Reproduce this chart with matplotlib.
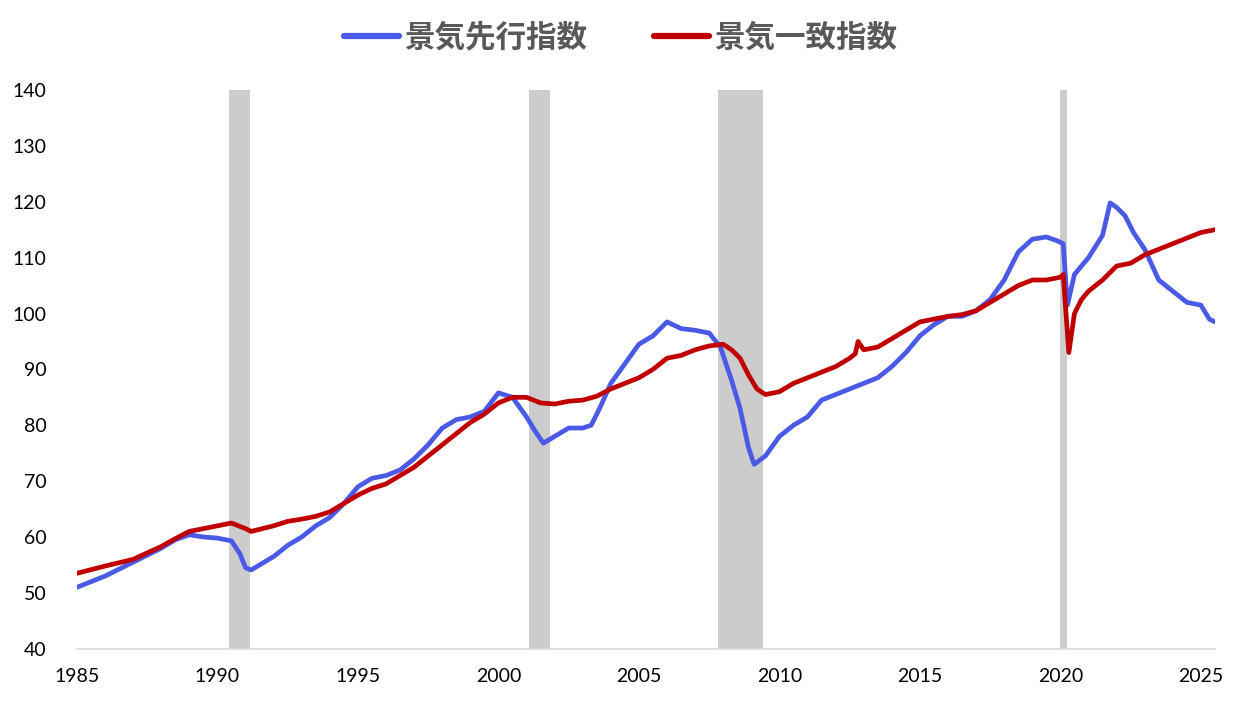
import matplotlib
matplotlib.use("Agg")
import matplotlib.pyplot as plt

# 景気先行指数 (LEI) - fractional year, value
lei_t = [1985.0, 1986.0, 1987.0, 1988.0, 1988.5, 1989.0, 1989.5, 1990.0, 1990.5, 1990.8,
         1991.0, 1991.2, 1991.5, 1992.0, 1992.5, 1993.0, 1993.5, 1994.0, 1994.5, 1995.0,
         1995.5, 1996.0, 1996.5, 1997.0, 1997.5, 1998.0, 1998.5, 1999.0, 1999.5, 2000.0,
         2000.5, 2001.0, 2001.3, 2001.6, 2002.0, 2002.5, 2003.0, 2003.3, 2003.6, 2004.0,
         2004.5, 2005.0, 2005.5, 2006.0, 2006.5, 2007.0, 2007.5, 2007.9, 2008.3, 2008.6,
         2008.9, 2009.1, 2009.5, 2010.0, 2010.5, 2011.0, 2011.5, 2012.0, 2012.5, 2013.0,
         2013.5, 2014.0, 2014.5, 2015.0, 2015.5, 2016.0, 2016.5, 2017.0, 2017.5, 2018.0,
         2018.5, 2019.0, 2019.5, 2019.9, 2020.1, 2020.25, 2020.5, 2021.0, 2021.5, 2021.77,
         2022.0, 2022.3, 2022.6, 2023.0, 2023.5, 2024.0, 2024.5, 2025.0, 2025.3, 2025.5]
lei_v = [51.0, 53.0, 55.5, 58.0, 59.5, 60.4, 60.0, 59.8, 59.3, 57.0,
         54.5, 54.1, 55.0, 56.5, 58.5, 60.0, 62.0, 63.5, 66.0, 69.0,
         70.5, 71.0, 72.0, 74.0, 76.5, 79.5, 81.0, 81.5, 82.5, 85.8,
         85.0, 81.5, 79.0, 76.8, 78.0, 79.5, 79.5, 80.0, 83.0, 87.5,
         91.0, 94.5, 96.0, 98.5, 97.3, 97.0, 96.5, 94.0, 88.0, 83.0,
         76.0, 73.0, 74.5, 78.0, 80.0, 81.5, 84.5, 85.5, 86.5, 87.5,
         88.5, 90.5, 93.0, 96.0, 98.0, 99.5, 99.5, 100.5, 102.5, 106.0,
         111.0, 113.3, 113.7, 113.0, 112.5, 101.5, 107.0, 110.0, 114.0, 119.8,
         119.0, 117.5, 114.5, 111.5, 106.0, 104.0, 102.0, 101.5, 99.0, 98.5]

# 景気一致指数 (CEI)
cei_t = [1985.0, 1986.0, 1987.0, 1988.0, 1988.5, 1989.0, 1989.5, 1990.0, 1990.5, 1991.0,
         1991.2, 1991.6, 1992.0, 1992.5, 1993.0, 1993.5, 1994.0, 1994.5, 1995.0, 1995.5,
         1996.0, 1996.5, 1997.0, 1997.5, 1998.0, 1998.5, 1999.0, 1999.5, 2000.0, 2000.5,
         2001.0, 2001.5, 2002.0, 2002.5, 2003.0, 2003.5, 2004.0, 2004.5, 2005.0, 2005.5,
         2006.0, 2006.5, 2007.0, 2007.5, 2008.0, 2008.3, 2008.6, 2008.9, 2009.2, 2009.5,
         2010.0, 2010.5, 2011.0, 2011.5, 2012.0, 2012.5, 2012.7, 2012.8, 2013.0, 2013.5,
         2014.0, 2014.5, 2015.0, 2015.5, 2016.0, 2016.5, 2017.0, 2017.5, 2018.0, 2018.5,
         2019.0, 2019.5, 2020.0, 2020.1, 2020.3, 2020.5, 2020.75, 2021.0, 2021.5, 2022.0,
         2022.5, 2023.0, 2023.5, 2024.0, 2024.5, 2025.0, 2025.5]
cei_v = [53.5, 54.8, 56.0, 58.3, 59.7, 61.0, 61.5, 62.0, 62.5, 61.5,
         61.0, 61.5, 62.0, 62.8, 63.2, 63.7, 64.5, 66.0, 67.5, 68.7,
         69.5, 71.0, 72.5, 74.5, 76.5, 78.5, 80.5, 82.0, 84.0, 85.0,
         85.0, 84.0, 83.8, 84.3, 84.5, 85.2, 86.5, 87.5, 88.5, 90.0,
         92.0, 92.5, 93.5, 94.2, 94.5, 93.5, 92.0, 89.0, 86.5, 85.5,
         86.0, 87.5, 88.5, 89.5, 90.5, 92.0, 92.8, 95.0, 93.5, 94.0,
         95.5, 97.0, 98.5, 99.0, 99.5, 99.8, 100.5, 102.0, 103.5, 105.0,
         106.0, 106.0, 106.5, 107.0, 93.0, 100.0, 102.5, 104.0, 106.0, 108.5,
         109.0, 110.5, 111.5, 112.5, 113.5, 114.5, 115.0]

# recessions (start, end)
rec_start = [1990.42, 2001.08, 2007.8, 2019.97]
rec_end = [1991.17, 2001.84, 2009.4, 2020.23]

years = [1985, 1990, 1995, 2000, 2005, 2010, 2015, 2020, 2025]

fig = plt.figure(figsize=(12.41, 7.09), dpi=100)
ax = fig.add_axes([0.062, 0.085, 0.917, 0.788])

for s, e in zip(rec_start, rec_end):
    ax.axvspan(s, e, color="#cccccc", lw=0, zorder=1)

ax.plot(lei_t, lei_v, color="#4a5ae6", lw=3.4, label="景気先行指数", zorder=3,
        solid_capstyle="round", solid_joinstyle="round")
ax.plot(cei_t, cei_v, color="#c00000", lw=3.4, label="景気一致指数", zorder=4,
        solid_capstyle="round", solid_joinstyle="round")

ax.set_xlim(1985, 2025.5)
ax.set_ylim(40, 140)
ax.set_yticks(range(40, 141, 10))
ax.set_xticks(years)
ax.set_xticklabels([str(y) for y in years])
for sp in ["top", "right", "left"]:
    ax.spines[sp].set_visible(False)
ax.spines["bottom"].set_color("#d9d9d9")
ax.spines["bottom"].set_linewidth(1.2)
ax.tick_params(length=0, labelsize=14, labelcolor="#000000")
ax.tick_params(axis="y", pad=22)
ax.tick_params(axis="x", pad=14)
for lab in ax.get_xticklabels() + ax.get_yticklabels():
    lab.set_family("Lato")

leg = fig.legend(loc="upper center", bbox_to_anchor=(0.5, 1.008), ncol=2, frameon=False,
                 prop={"family": ["Noto Sans CJK JP", "DejaVu Sans"], "weight": "bold", "size": 22},
                 handlelength=1.8, handletextpad=0.15, columnspacing=2.2)
for t in leg.get_texts():
    t.set_color("#595959")
for h in leg.get_lines():
    h.set_linewidth(4.5)

fig.savefig("out.png", dpi=100)
